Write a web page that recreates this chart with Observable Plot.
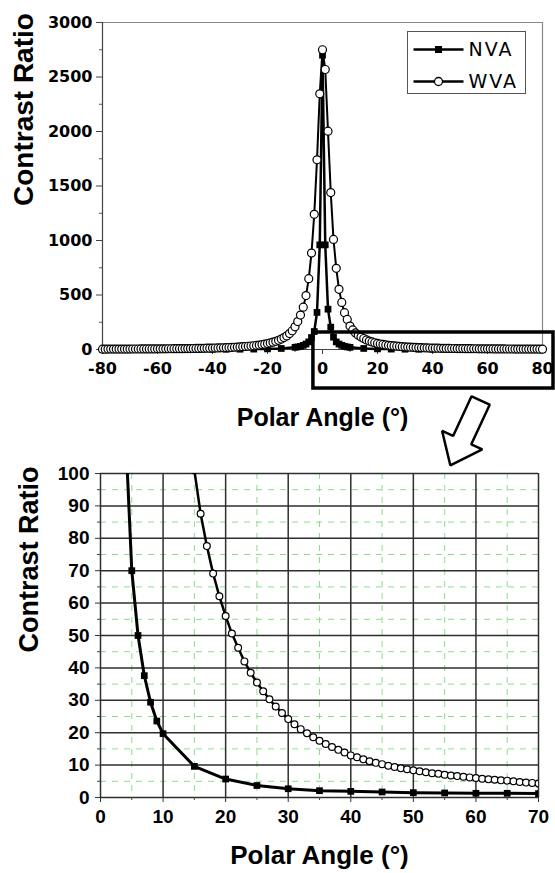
<!DOCTYPE html>
<html><head><meta charset="utf-8">
<script src="https://cdn.jsdelivr.net/npm/d3@7"></script>
<script src="https://cdn.jsdelivr.net/npm/@observablehq/plot@0.6"></script>
<style>
body{margin:0;background:#fff;}
#wrap{position:relative;width:555px;height:873px;overflow:hidden;background:#fff;}
#top,#bottom{position:absolute;left:0;}
#top{top:0;}
#bottom{top:440px;}
#legend{position:absolute;left:407px;top:31px;width:119px;height:63px;box-sizing:border-box;border:1.5px solid #555;background:#fff;}
#top g[aria-label="y-axis tick label"], #top g[aria-label="x-axis tick label"]{font-family:"DejaVu Sans",sans-serif !important;font-weight:bold !important;font-size:16px !important;fill:#000;}
#bottom g[aria-label="y-axis tick label"], #bottom g[aria-label="x-axis tick label"]{font-family:"Liberation Sans",Arial,sans-serif !important;font-weight:bold !important;font-size:19px !important;fill:#000;}
</style></head><body>
<div id="wrap"><div id="top"></div><div id="bottom"></div><div id="legend"></div></div>
<script>
// ---------- data ----------
const seriesNames = ["NVA", "WVA"];

const nvaAngles = [-80,-75,-70,-65,-60,-55,-50,-45,-40,-35,-30,-25,-20,-15,-10,-9,-8,-7,-6,-5,-4,-3,-2,-1,0,1,2,3,4,5,6,7,8,9,10,15,20,25,30,35,40,45,50,55,60,65,70,75,80];
const nvaValues = [1.1,1.2,1.2,1.3,1.35,1.4,1.5,1.7,1.9,2.1,2.8,3.7,5.7,9.5,20,24,29,38,50,70,110,165,340,960,2700,960,370,205,113,70,50,37.6,29.4,23.6,19.7,9.6,5.7,3.7,2.7,2.1,1.9,1.7,1.5,1.4,1.3,1.3,1.2,1.2,1.1];

const wvaAngles = [-80,-79,-78,-77,-76,-75,-74,-73,-72,-71,-70,-69,-68,-67,-66,-65,-64,-63,-62,-61,-60,-59,-58,-57,-56,-55,-54,-53,-52,-51,-50,-49,-48,-47,-46,-45,-44,-43,-42,-41,-40,-39,-38,-37,-36,-35,-34,-33,-32,-31,-30,-29,-28,-27,-26,-25,-24,-23,-22,-21,-20,-19,-18,-17,-16,-15,-14,-13,-12,-11,-10,-9,-8,-7,-6,-5,-4,-3,-2,-1,0,1,2,3,4,5,6,7,8,9,10,11,12,13,14,15,16,17,18,19,20,21,22,23,24,25,26,27,28,29,30,31,32,33,34,35,36,37,38,39,40,41,42,43,44,45,46,47,48,49,50,51,52,53,54,55,56,57,58,59,60,61,62,63,64,65,66,67,68,69,70,71,72,73,74,75,76,77,78,79,80];
const wvaValues = [3.3,3.4,3.5,3.6,3.7,3.8,3.9,4.0,4.1,4.2,4.3,4.4,4.6,4.7,4.9,5.1,5.2,5.4,5.5,5.7,5.9,6.1,6.3,6.5,6.7,6.9,7.2,7.4,7.7,8.0,8.3,8.6,8.9,9.3,9.7,10.2,10.6,11.1,11.7,12.3,12.9,13.7,14.5,15.3,16.2,17.2,18.2,19.4,20.7,22.1,23.7,25.5,27.5,29.6,32,34.5,37.5,41,45,49,54,60,67,75,84,96,109,125,146,172,208,256,316,388,495,650,885,1240,1740,2346,
  2750,2569,2003,1440,1010,745,552,432,338,276,215,180,152,130,114,101,87.6,77.6,69.1,62.1,56,50.6,46.2,42,38.5,35.5,32.8,30.3,28.1,26.1,24.2,22.6,21.1,19.8,18.6,17.5,16.5,15.6,14.7,13.9,13.0,12.4,11.8,11.2,10.7,10.3,9.8,9.4,9.0,8.7,8.4,8.1,7.8,7.5,7.3,7.0,6.8,6.6,6.4,6.2,6.0,5.8,5.6,5.5,5.3,5.2,5.0,4.8,4.6,4.5,4.3,4.2,4.1,4.0,3.9,3.8,3.7,3.6,3.5,3.4,3.3];

// tick labels
const topXTicks = [-80,-60,-40,-20,0,20,40,60,80];
const topXMinor = [-70,-50,-30,-10,10,30,50,70];
const topYTicks = [0,500,1000,1500,2000,2500,3000];
const topYMinor = [250,750,1250,1750,2250,2750];
const botXTicks = [0,10,20,30,40,50,60,70];
const botXMinor = [5,15,25,35,45,55,65];
const botYTicks = [0,10,20,30,40,50,60,70,80,90,100];
const botYMinor = [5,15,25,35,45,55,65,75,85,95];

const xTitle = "Polar Angle (°)";
const yTitle = "Contrast Ratio";

// zoom-indicator box (top chart data units) and arrow outline
const zoomBoxX = [-3.3, 84];
const zoomBoxY = [-358, 156];
const arrowX = [54.2, 60.8, 54.1, 58.1, 46.5, 43.5, 47.5];
const arrowY = [-429, -506, -870, -916, -1064, -747, -793];

// ---------- build ----------
const nva = nvaAngles.map((a, i) => ({angle: a, value: nvaValues[i]}));
const wva = wvaAngles.map((a, i) => ({angle: a, value: wvaValues[i]}));
const arrow = arrowX.map((x, i) => ({x, y: arrowY[i]}));
const box = [{x1: zoomBoxX[0], x2: zoomBoxX[1], y1: zoomBoxY[0], y2: zoomBoxY[1]}];

const titleFont = {fontFamily: "Liberation Sans, Arial, sans-serif", fontWeight: "bold", fill: "#000"};
const fmt = d => String(d);

const topPlot = Plot.plot({
  width: 555, height: 470,
  marginLeft: 102, marginRight: 13, marginTop: 22, marginBottom: 121,
  style: {background: "transparent", overflow: "visible", color: "#000"},
  x: {domain: [-80, 80]},
  y: {domain: [0, 3000]},
  marks: [
    Plot.ruleY([3000], {stroke: "#888", strokeWidth: 1.2}),
    Plot.ruleX([80], {stroke: "#888", strokeWidth: 1.2}),
    Plot.axisY({ticks: topYTicks, tickFormat: fmt, tickSize: 6, tickPadding: 4, label: null, stroke: "#444"}),
    Plot.axisY({ticks: topYMinor, tickSize: 3, text: null, label: null, stroke: "#555"}),
    Plot.axisX({ticks: topXTicks, tickFormat: fmt, tickSize: 5, tickPadding: 8, label: null, stroke: "#444"}),
    Plot.axisX({ticks: topXMinor, tickSize: 3, text: null, label: null, stroke: "#555"}),
    Plot.ruleX([-80], {stroke: "#444", strokeWidth: 1.2}),
    Plot.ruleY([0], {stroke: "#444", strokeWidth: 1.2}),
    Plot.line(nva, {x: "angle", y: "value", stroke: "#000", strokeWidth: 2.5}),
    Plot.dot(nva, {x: "angle", y: "value", symbol: "square", r: 3.8, fill: "#000"}),
    Plot.line(wva, {x: "angle", y: "value", stroke: "#000", strokeWidth: 2}),
    Plot.dot(wva, {x: "angle", y: "value", r: 4, fill: "#fff", stroke: "#000", strokeWidth: 1.2}),
    Plot.rect(box, {x1: "x1", x2: "x2", y1: "y1", y2: "y2", fill: "none", stroke: "#000", strokeWidth: 3.5}),
    Plot.line(arrow, {x: "x", y: "y", curve: "linear-closed", stroke: "#000", strokeWidth: 2.5, fill: "#fff", strokeLinejoin: "miter"}),
    Plot.text([xTitle], {text: d => d, frameAnchor: "bottom", dy: 68, lineAnchor: "middle", fontSize: 25, ...titleFont}),
    Plot.text([yTitle], {text: d => d, frameAnchor: "left", rotate: -90, dx: -78, dy: 20, lineAnchor: "middle", fontSize: 28, ...titleFont})
  ]
});
document.getElementById("top").appendChild(topPlot);

const botPlot = Plot.plot({
  width: 555, height: 433,
  marginLeft: 100, marginRight: 17, marginTop: 33, marginBottom: 76,
  style: {background: "transparent", overflow: "visible", color: "#000"},
  x: {domain: [0, 70]},
  y: {domain: [0, 100]},
  marks: [
    Plot.ruleX(botXMinor, {stroke: "#8fdc8f", strokeWidth: 1, strokeDasharray: "6,6"}),
    Plot.ruleY(botYMinor, {stroke: "#8fdc8f", strokeWidth: 1, strokeDasharray: "6,6"}),
    Plot.ruleX(botXTicks, {stroke: "#2e2e2e", strokeWidth: 1.5}),
    Plot.ruleY(botYTicks, {stroke: "#2e2e2e", strokeWidth: 1.5}),
    Plot.axisY({ticks: botYTicks, tickFormat: fmt, tickSize: 5, tickPadding: 6, label: null, stroke: "#333"}),
    Plot.axisY({ticks: botYMinor, tickSize: 3, text: null, label: null, stroke: "#444"}),
    Plot.axisX({ticks: botXTicks, tickFormat: fmt, tickSize: 5, tickPadding: 7, label: null, stroke: "#333"}),
    Plot.axisX({ticks: botXMinor, tickSize: 3, text: null, label: null, stroke: "#444"}),
    Plot.line(nva, {x: "angle", y: "value", stroke: "#000", strokeWidth: 3, clip: true}),
    Plot.dot(nva, {x: "angle", y: "value", symbol: "square", r: 3.8, fill: "#000", clip: true}),
    Plot.line(wva, {x: "angle", y: "value", stroke: "#000", strokeWidth: 2.5, clip: true}),
    Plot.dot(wva, {x: "angle", y: "value", r: 3.4, fill: "#fff", stroke: "#000", strokeWidth: 1.2, clip: true}),
    Plot.text([xTitle], {text: d => d, frameAnchor: "bottom", dy: 58, lineAnchor: "middle", fontSize: 26, ...titleFont}),
    Plot.text([yTitle], {text: d => d, frameAnchor: "left", rotate: -90, dx: -71, dy: 17, lineAnchor: "middle", fontSize: 27, ...titleFont})
  ]
});
document.getElementById("bottom").appendChild(botPlot);

// legend
const lg = d3.select("#legend").append("svg").attr("width", 116).attr("height", 60);
seriesNames.forEach((name, i) => {
  const cy = 17.5 + i * 32;
  lg.append("line").attr("x1", 5.5).attr("x2", 55.5).attr("y1", cy).attr("y2", cy).attr("stroke", "#000").attr("stroke-width", 2.5);
  if (name === "NVA") {
    lg.append("rect").attr("x", 27).attr("y", cy - 3.5).attr("width", 7).attr("height", 7).attr("fill", "#000");
  } else {
    lg.append("circle").attr("cx", 30.5).attr("cy", cy).attr("r", 4).attr("fill", "#fff").attr("stroke", "#000").attr("stroke-width", 1.3);
  }
  lg.append("text").attr("x", 60.5).attr("y", cy).attr("dy", "0.36em").attr("font-family", "DejaVu Sans").attr("font-size", 19).attr("letter-spacing", "2px").text(name);
});
</script>
</body></html>
